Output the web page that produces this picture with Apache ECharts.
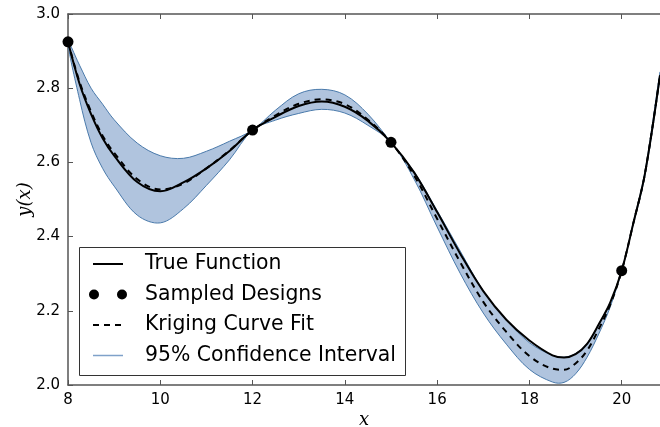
<!DOCTYPE html>
<html>
<head>
<meta charset="utf-8">
<script src="https://cdn.jsdelivr.net/npm/echarts@6/dist/echarts.min.js"></script>
<style>html,body{margin:0;padding:0;background:#fff;}#c{width:660px;height:427px;}</style>
</head>
<body>
<div id="c"></div>
<script>
const xs      = [8, 8.25, 8.5, 8.75, 9, 9.5, 10, 10.5, 11, 11.5, 12, 12.5, 13, 13.5, 14, 14.5, 15, 15.5, 16, 16.5, 17, 17.5, 18, 18.5, 18.75, 19, 19.25, 19.5, 19.75, 20, 20.25, 20.5, 20.83];
const trueY   = [2.925, 2.812, 2.730, 2.665, 2.618, 2.547, 2.522, 2.546, 2.584, 2.631, 2.687, 2.723, 2.752, 2.764, 2.750, 2.712, 2.654, 2.573, 2.466, 2.354, 2.253, 2.176, 2.120, 2.080, 2.074, 2.083, 2.111, 2.163, 2.222, 2.308, 2.435, 2.567, 2.835];
const krigY   = [2.925, 2.817, 2.737, 2.672, 2.626, 2.555, 2.527, 2.543, 2.584, 2.632, 2.687, 2.727, 2.758, 2.770, 2.757, 2.715, 2.654, 2.565, 2.448, 2.331, 2.224, 2.143, 2.078, 2.044, 2.041, 2.058, 2.093, 2.150, 2.216, 2.308, 2.435, 2.567, 2.835];
const ciUpper = [2.925, 2.862, 2.800, 2.757, 2.715, 2.652, 2.618, 2.611, 2.630, 2.657, 2.687, 2.741, 2.785, 2.797, 2.782, 2.730, 2.654, 2.575, 2.470, 2.361, 2.254, 2.176, 2.114, 2.080, 2.075, 2.085, 2.112, 2.163, 2.222, 2.308, 2.438, 2.572, 2.843];
const ciLower = [2.925, 2.770, 2.653, 2.584, 2.536, 2.458, 2.437, 2.475, 2.538, 2.607, 2.687, 2.714, 2.732, 2.743, 2.733, 2.700, 2.654, 2.555, 2.426, 2.301, 2.194, 2.110, 2.042, 2.008, 2.007, 2.030, 2.075, 2.137, 2.210, 2.308, 2.432, 2.562, 2.827];
const sampleX = [8, 12, 15, 20];
const sampleY = [2.925, 2.687, 2.654, 2.308];
const legendLabels = ['True Function', 'Sampled Designs', 'Kriging Curve Fit', '95% Confidence Interval'];

const chart = echarts.init(document.getElementById('c'), null, {renderer: 'canvas'});
const axisColor = '#555';
const lblFont = {fontSize: 15, color: '#000', fontFamily: 'DejaVu Sans'};
const pair = (ys) => xs.map((x, i) => [x, ys[i]]);
const SM = 0.35;

const legendTop = 247.5, rowH = 30.5, rowY0 = 264;
const g = [{
  type: 'rect', z: 100,
  shape: {x: 79.5, y: legendTop, width: 326, height: 128},
  style: {fill: '#fff', stroke: '#333', lineWidth: 1}
}];
g.push({type: 'line', z: 101, shape: {x1: 93, y1: rowY0, x2: 123, y2: rowY0}, style: {stroke: '#000', lineWidth: 2}});
g.push({type: 'circle', z: 101, shape: {cx: 94, cy: rowY0 + rowH, r: 5}, style: {fill: '#000'}});
g.push({type: 'circle', z: 101, shape: {cx: 122, cy: rowY0 + rowH, r: 5}, style: {fill: '#000'}});
g.push({type: 'line', z: 101, shape: {x1: 93, y1: rowY0 + 2 * rowH, x2: 123, y2: rowY0 + 2 * rowH}, style: {stroke: '#000', lineWidth: 2, lineDash: [6, 5]}});
g.push({type: 'line', z: 101, shape: {x1: 93, y1: rowY0 + 3 * rowH, x2: 123, y2: rowY0 + 3 * rowH}, style: {stroke: '#7fa1c9', lineWidth: 1.5}});
legendLabels.forEach((t, i) => {
  g.push({type: 'text', z: 101, x: 145, y: rowY0 + i * rowH,
    style: {text: t, fontSize: 20.4, fontFamily: 'DejaVu Sans', fill: '#000', verticalAlign: 'middle', align: 'left'}});
});

function renderBand(params, api) {
  const up = xs.map((x, i) => api.coord([x, ciUpper[i]]));
  const lo = [];
  for (let i = xs.length - 1; i >= 1; i--) lo.push(api.coord([xs[i], ciLower[i]]));
  return {
    type: 'polygon',
    shape: {points: up.concat(lo), smooth: SM},
    style: {fill: '#b0c4de', stroke: '#4a7aab', lineWidth: 1},
    clipPath: {type: 'rect', shape: {x: params.coordSys.x, y: params.coordSys.y, width: params.coordSys.width, height: params.coordSys.height}}
  };
}

chart.setOption({
  animation: false,
  backgroundColor: '#fff',
  grid: {left: 68, top: 14, width: 592, height: 371, containLabel: false, outerBoundsMode: 'none'},
  xAxis: [{
    type: 'value', min: 8, max: 20.83, interval: 2, position: 'bottom',
    axisLine: {show: true, lineStyle: {color: axisColor, width: 1.5}},
    axisTick: {show: true, inside: true, length: 5, lineStyle: {color: axisColor}},
    axisLabel: Object.assign({margin: 8, showMaxLabel: false}, lblFont),
    splitLine: {show: false},
    name: 'x', nameLocation: 'middle', nameGap: 26, nameMoveOverlap: false,
    nameTextStyle: {fontFamily: 'DejaVu Serif', fontStyle: 'italic', fontSize: 18, color: '#000'}
  }, {
    type: 'value', min: 8, max: 20.83, interval: 2, position: 'top',
    axisLine: {show: true, lineStyle: {color: axisColor, width: 1.5}},
    axisTick: {show: true, inside: true, length: 5, lineStyle: {color: axisColor}},
    axisLabel: {show: false}, splitLine: {show: false}
  }],
  yAxis: [{
    type: 'value', min: 2, max: 3, interval: 0.2,
    axisLine: {show: true, lineStyle: {color: axisColor, width: 1.5}},
    axisTick: {show: true, inside: true, length: 5, lineStyle: {color: axisColor}},
    axisLabel: Object.assign({margin: 8, formatter: v => v.toFixed(1)}, lblFont),
    splitLine: {show: false},
    name: 'y(x)', nameLocation: 'middle', nameGap: 34, nameMoveOverlap: false,
    nameTextStyle: {fontFamily: 'DejaVu Serif', fontStyle: 'italic', fontSize: 18, color: '#000'}
  }],
  graphic: g,
  series: [
    {type: 'custom', name: 'ci', data: [0], renderItem: renderBand, z: 1, silent: true},
    {type: 'line', name: legendLabels[2], data: pair(krigY), smooth: SM, showSymbol: false, symbol: 'none',
      lineStyle: {color: '#000', width: 2, type: [6, 5]}, z: 3},
    {type: 'line', name: legendLabels[0], data: pair(trueY), smooth: SM, showSymbol: false, symbol: 'none',
      lineStyle: {color: '#000', width: 2}, z: 4},
    {type: 'scatter', name: legendLabels[1], data: sampleX.map((x, i) => [x, sampleY[i]]), symbolSize: 11,
      itemStyle: {color: '#000', opacity: 1}, z: 5}
  ]
});
</script>
</body>
</html>
